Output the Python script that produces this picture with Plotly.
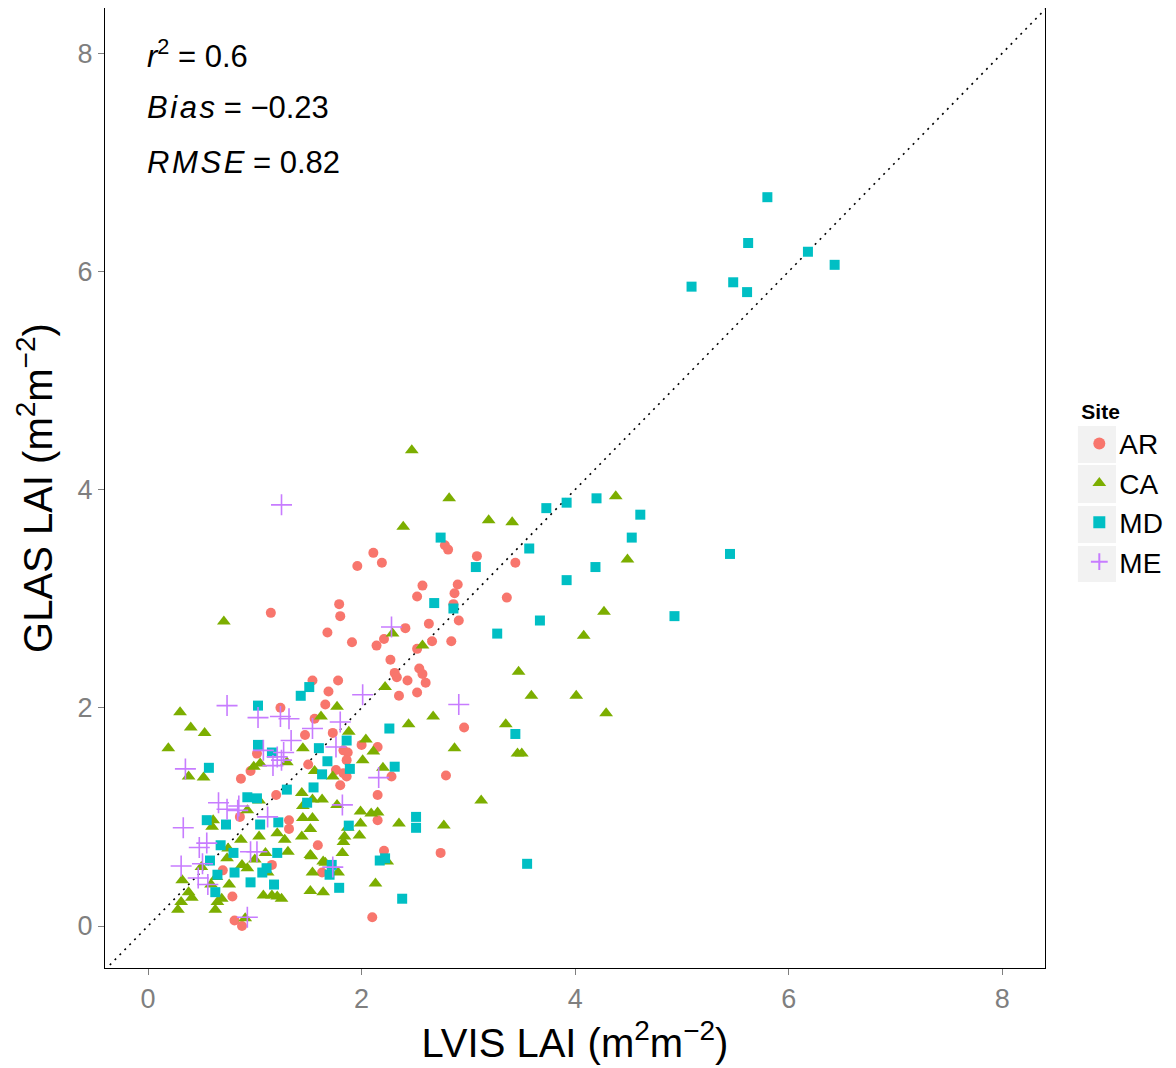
import plotly.graph_objects as go

# LVIS LAI (x) vs GLAS LAI (y)
ar_x = [2.11, 1.96, 2.19, 1.79, 1.80, 1.15, 1.68, 1.91, 2.14, 2.21, 2.27, 2.31, 1.54, 1.78,
        2.78, 2.81, 3.08, 3.44, 2.57, 2.90, 2.52, 2.87, 3.36, 2.86, 2.91, 2.63, 2.41, 2.84,
        2.66, 2.52, 2.54, 2.57, 2.60, 2.43, 2.33, 2.35, 2.52, 1.69, 1.66, 2.96, 1.56, 1.73,
        1.47, 1.83, 1.87, 1.86, 2.00, 2.15, 1.50, 1.76, 1.83, 1.86, 1.80, 2.28, 2.79, 2.15,
        2.15, 1.59, 2.74, 2.21, 1.63, 2.10, 1.24, 1.02, 0.96, 0.87, 1.20, 1.32, 1.32, 1.16,
        0.79, 0.81, 0.88, 0.70, 0.86]
ar_y = [3.42, 3.30, 3.33, 2.95, 2.84, 2.87, 2.69, 2.60, 2.57, 2.63, 2.44, 2.32, 2.25, 2.25,
        3.49, 3.45, 3.39, 3.33, 3.12, 3.13, 3.02, 3.05, 3.01, 2.95, 2.80, 2.77, 2.73, 2.61,
        2.61, 2.54, 2.36, 2.31, 2.23, 2.25, 2.28, 2.11, 2.14, 2.15, 2.03, 1.82, 1.90, 1.77,
        1.75, 1.61, 1.59, 1.52, 1.66, 1.64, 1.48, 1.43, 1.40, 1.37, 1.29, 1.37, 1.38, 1.20,
        0.97, 0.74, 0.67, 0.69, 0.49, 0.08, 2.00, 1.58, 1.42, 1.35, 1.20, 0.97, 0.89, 0.56,
        0.27, 0.05, 0.00, 0.51, 1.00]

ca_x = [2.47, 2.82, 2.39, 3.19, 3.41, 4.38, 4.49, 4.27, 4.08, 3.47, 3.59, 4.01, 4.29, 3.35,
        3.46, 3.50, 3.12, 2.29, 2.57, 2.22, 0.71, 1.77, 1.62, 1.88, 2.04, 2.11, 2.01, 2.20,
        2.67, 2.44, 2.87, 1.73, 1.56, 1.44, 1.54, 1.63, 1.45, 1.77, 1.99, 2.09, 2.15, 2.35,
        2.77, 1.99, 1.45, 1.54, 1.52, 1.44, 1.87, 1.98, 1.84, 1.83, 1.82, 1.53, 1.66, 1.54,
        1.78, 2.24, 2.13, 1.52, 1.64, 1.45, 1.30, 0.30, 0.40, 0.53, 0.19, 0.38, 0.52, 0.99,
        1.05, 1.04, 0.93, 0.61, 0.60, 0.87, 0.75, 1.04, 1.21, 1.10, 0.74, 0.88, 0.93, 1.00,
        1.12, 0.50, 0.64, 0.32, 0.76, 0.38, 0.41, 0.31, 0.69, 0.65, 1.08, 1.16, 1.21, 0.63,
        0.28, 0.91, 0.59, 1.52, 1.64, 1.28, 1.31, 1.25]
ca_y = [4.36, 3.92, 3.66, 3.72, 3.70, 3.94, 3.36, 2.88, 2.66, 2.33, 2.11, 2.11, 1.95, 1.85,
        1.58, 1.58, 1.15, 2.68, 2.57, 2.19, 2.79, 2.01, 1.92, 1.78, 1.71, 1.60, 1.52, 1.45,
        1.92, 1.85, 1.63, 1.37, 1.42, 1.22, 1.16, 1.16, 1.10, 1.11, 1.05, 1.03, 1.04, 0.94,
        0.92, 0.94, 0.99, 0.99, 0.89, 0.82, 0.90, 0.83, 0.82, 0.77, 0.67, 0.64, 0.58, 0.49,
        0.49, 0.59, 0.39, 0.32, 0.31, 1.63, 1.50, 1.96, 1.82, 1.77, 1.63, 1.37, 1.36, 1.46,
        1.49, 1.15, 1.06, 0.97, 0.91, 0.79, 0.71, 0.82, 0.85, 0.67, 0.62, 0.56, 0.53, 0.61,
        0.49, 0.54, 0.45, 0.42, 0.38, 0.31, 0.26, 0.22, 0.25, 0.22, 0.28, 0.28, 0.27, 0.15,
        0.15, 0.07, 0.38, 0.65, 0.59, 0.79, 0.68, 0.25]

md_x = [5.80, 5.62, 6.18, 6.43, 5.09, 5.48, 5.61, 3.73, 3.92, 4.20, 4.61, 4.53, 5.45, 4.19,
        3.92, 3.57, 3.67, 3.27, 4.93, 3.07, 3.44, 3.55, 2.74, 2.68, 2.86, 1.51, 1.43, 2.26,
        2.31, 1.86, 1.60, 1.68, 1.89, 1.63, 1.55, 1.30, 1.49, 1.88, 1.70, 1.72, 1.79, 2.17,
        2.22, 2.38, 2.51, 2.51, 1.03, 0.57, 1.03, 1.16, 0.93, 1.02, 0.55, 0.73, 1.05, 1.22,
        0.68, 0.80, 1.21, 0.58, 1.11, 1.07, 0.81, 0.65, 0.96, 1.18, 0.63]
md_y = [6.68, 6.26, 6.18, 6.06, 5.86, 5.90, 5.81, 3.83, 3.88, 3.92, 3.77, 3.56, 3.41, 3.29,
        3.17, 3.46, 2.80, 2.68, 2.84, 3.29, 1.76, 0.57, 3.56, 2.96, 2.91, 2.19, 2.11, 1.81,
        1.46, 1.70, 1.63, 1.51, 1.44, 1.39, 1.27, 1.25, 1.13, 0.92, 0.47, 0.56, 0.35, 0.60,
        0.62, 0.25, 1.00, 0.90, 2.02, 1.45, 1.66, 1.59, 1.18, 1.17, 0.97, 0.93, 0.93, 0.95,
        0.74, 0.67, 0.67, 0.60, 0.53, 0.49, 0.49, 0.47, 0.40, 0.38, 0.31]

me_x = [1.25, 2.28, 2.01, 2.91, 1.80, 1.54, 1.76, 2.16, 1.82, 1.73, 1.32, 1.24, 1.34, 1.27,
        0.74, 1.03, 1.08, 1.21, 1.17, 0.35, 0.66, 0.85, 0.33, 0.48, 0.55, 0.31, 0.51, 0.47,
        0.56, 0.74, 0.84, 1.12, 1.02, 0.96, 0.93, 1.25]
me_y = [3.86, 2.74, 2.12, 2.03, 1.87, 1.81, 1.64, 1.36, 1.11, 0.54, 1.90, 1.92, 1.70, 1.59,
        2.02, 1.91, 1.61, 1.55, 1.47, 1.44, 1.13, 1.10, 0.90, 0.72, 0.76, 0.55, 0.57, 0.44,
        0.38, 1.07, 1.06, 1.00, 0.68, 0.68, 0.08, 1.52]

sites = ["AR", "CA", "MD", "ME"]
colors = ["#F8766D", "#7CAE00", "#00BFC4", "#C77CFF"]
# plotmath-style italic: hair spaces between letters
hs = "\u200a"
stats = ["<i>r</i><sup>2</sup> = 0.6",
         "<i>" + hs.join("Bias") + "</i> = \u22120.23",
         "<i>" + hs.join("RMSE") + "</i> = 0.82"]
stat_y = [7.99, 7.50, 7.00]

x_range = [-0.403, 8.40]
y_range = [-0.385, 8.414]

fig = go.Figure()

# 1:1 line
fig.add_trace(go.Scatter(x=[-1, 10], y=[-1, 10], mode="lines",
                         line=dict(color="black", width=1.6, dash="2px,5px"),
                         showlegend=False, hoverinfo="skip"))

series = [(ar_x, ar_y, dict(symbol="circle", size=10)),
          (ca_x, ca_y, dict(symbol="triangle-up", size=12)),
          (md_x, md_y, dict(symbol="square", size=10)),
          (me_x, me_y, dict(symbol="cross-thin", size=15))]

for name, col, (xs, ys, mk) in zip(sites, colors, series):
    mk = dict(mk)
    mk["color"] = col
    if mk["symbol"] == "cross-thin":
        mk["line"] = dict(width=1.6, color=col)
    else:
        mk["line"] = dict(width=0)
    fig.add_trace(go.Scatter(x=xs, y=ys, mode="markers", name=name, marker=mk))

for txt, yy in zip(stats, stat_y):
    fig.add_annotation(x=0, y=yy, xref="x", yref="y", text=txt, showarrow=False,
                       xanchor="left", yanchor="middle", xshift=-3,
                       font=dict(size=31, color="black"))

# grey legend key backgrounds (ggplot style)
key_boxes = [(0.5260, 0.5646), (0.4844, 0.5240), (0.4427, 0.4813), (0.4021, 0.4396)]
for y0, y1 in key_boxes:
    fig.add_shape(type="rect", xref="paper", yref="paper", x0=1.035, x1=1.0755,
                  y0=y0, y1=y1, fillcolor="#f2f2f2", line=dict(width=0), layer="below")

axis_common = dict(showgrid=False, zeroline=False, showline=True, mirror=True,
                   linecolor="black", linewidth=1.2, ticks="outside", ticklen=6,
                   tickcolor="#7f7f7f", tickwidth=1.2, automargin=False,
                   tickfont=dict(size=27, color="#7f7f7f"),
                   tickvals=[0, 2, 4, 6, 8])

fig.update_xaxes(range=x_range, title=dict(text="LVIS LAI (m<sup>2</sup>m<sup>\u22122</sup>)",
                 font=dict(size=40, color="black"), standoff=16), **axis_common)
fig.update_yaxes(range=y_range, title=dict(text="GLAS LAI (m<sup>2</sup>m<sup>\u22122</sup>)",
                 font=dict(size=40, color="black"), standoff=12), **axis_common)

# page body adds an 8px offset, so the figure is 8px smaller than the window
fig.update_layout(
    width=1168, height=1060,
    margin=dict(l=97, r=131, t=0, b=100, autoexpand=False),
    plot_bgcolor="white", paper_bgcolor="white",
    font=dict(family="Liberation Sans, Arial, sans-serif", color="black"),
    legend=dict(title=dict(text="<b>Site</b>", font=dict(size=21)),
                font=dict(size=28), x=1.0365, xanchor="left", y=0.6005, yanchor="top",
                tracegroupgap=0, itemsizing="constant", bgcolor="rgba(0,0,0,0)"),
)

fig.write_html("out.html")
